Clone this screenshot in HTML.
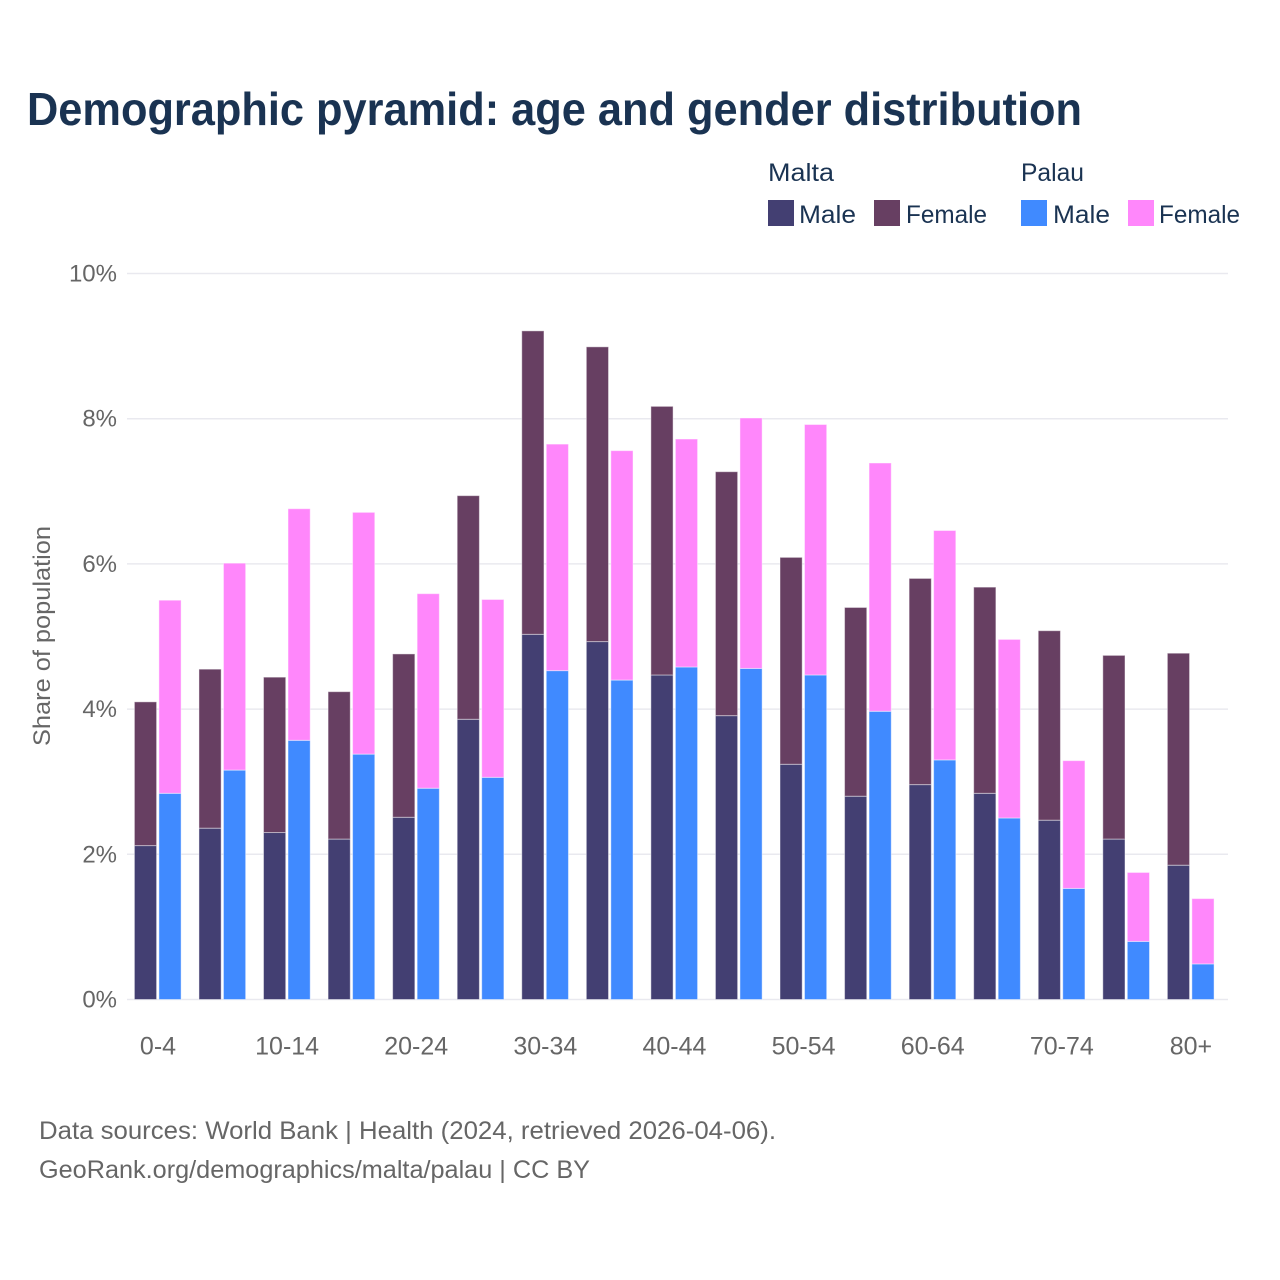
<!DOCTYPE html>
<html lang="en">
<head>
<meta charset="utf-8">
<title>Demographic pyramid</title>
<style>
html,body{margin:0;padding:0;background:#fff;}
svg{display:block;font-family:"Liberation Sans",sans-serif;}
</style>
</head>
<body>
<svg id="chart" xmlns="http://www.w3.org/2000/svg" width="1280" height="1280" viewBox="0 0 1280 1280">
<rect width="1280" height="1280" fill="#fff"/>
<text x="27" y="125" font-size="46" font-weight="700" fill="#1a3352" textLength="1055" lengthAdjust="spacingAndGlyphs">Demographic pyramid: age and gender distribution</text>
<g font-size="25" fill="#1a3352">
<text x="768" y="181" textLength="66" lengthAdjust="spacingAndGlyphs">Malta</text>
<text x="1021" y="181" textLength="63" lengthAdjust="spacingAndGlyphs">Palau</text>
<rect x="768" y="200" width="26" height="26" fill="#433f72"/>
<text x="799" y="223" textLength="57" lengthAdjust="spacingAndGlyphs">Male</text>
<rect x="874" y="200" width="26" height="26" fill="#673f62"/>
<text x="906" y="223" textLength="81" lengthAdjust="spacingAndGlyphs">Female</text>
<rect x="1021" y="200" width="26" height="26" fill="#408aff"/>
<text x="1053" y="223" textLength="57" lengthAdjust="spacingAndGlyphs">Male</text>
<rect x="1128" y="200" width="26" height="26" fill="#ff87fb"/>
<text x="1159" y="223" textLength="81" lengthAdjust="spacingAndGlyphs">Female</text>
</g>
<text transform="translate(50,636) rotate(-90)" text-anchor="middle" font-size="24" fill="#666" textLength="220" lengthAdjust="spacingAndGlyphs">Share of population</text>
<g id="grid"></g>
<g id="bars"></g>
<g id="xlabels"></g>
<g font-size="25" fill="#666">
<text x="39" y="1139" textLength="737" lengthAdjust="spacingAndGlyphs">Data sources: World Bank | Health (2024, retrieved 2026-04-06).</text>
<text x="39" y="1178" textLength="551" lengthAdjust="spacingAndGlyphs">GeoRank.org/demographics/malta/palau | CC BY</text>
</g>
</svg>
<script>
const ageGroups = ["0-4","5-9","10-14","15-19","20-24","25-29","30-34","35-39","40-44","45-49","50-54","55-59","60-64","65-69","70-74","75-79","80+"];
const tickedAgeLabels = ["0-4","10-14","20-24","30-34","40-44","50-54","60-64","70-74","80+"];
const maltaMale = [2.12,2.36,2.30,2.21,2.51,3.86,5.03,4.93,4.47,3.91,3.24,2.80,2.96,2.84,2.47,2.21,1.85];
const maltaFemale = [1.98,2.19,2.14,2.03,2.25,3.08,4.18,4.06,3.70,3.36,2.85,2.60,2.84,2.84,2.61,2.53,2.92];
const palauMale = [2.84,3.16,3.57,3.38,2.91,3.06,4.53,4.40,4.58,4.56,4.47,3.97,3.30,2.50,1.53,0.80,0.49];
const palauFemale = [2.66,2.85,3.19,3.33,2.68,2.45,3.12,3.16,3.14,3.45,3.45,3.42,3.16,2.46,1.76,0.95,0.90];
const yTicks = [0,2,4,6,8,10];

const NS = "http://www.w3.org/2000/svg";
function yScale(v){ return 999.5 - v * 72.6; }
function xScale(i){ return 158 + i * 64.56; }
function make(tag, attrs, parent, text){
  const el = document.createElementNS(NS, tag);
  for (const k in attrs) el.setAttribute(k, attrs[k]);
  if (text !== undefined) el.textContent = text;
  parent.appendChild(el);
  return el;
}
const grid = document.getElementById('grid');
yTicks.forEach(function(t){
  const line = make('line', {x1:127, x2:1228, y1:yScale(t), y2:yScale(t), stroke:'#e9e9ef', 'stroke-width':1.5}, grid);
  
  
  const label = make('text', {x:117, y:yScale(t)+8, 'text-anchor':'end', 'font-size':24, fill:'#666'}, grid, t + '%');
  
  
});
const bars = document.getElementById('bars');
function drawSegment(x, base, value, fill, name){
  const top = yScale(base + value);
  const r = make('rect', {x:x, y:top, width:22.2, height:yScale(base)-top, fill:fill, stroke:'#fff', 'stroke-opacity':0.45, 'stroke-width':1}, bars);
  
  
}
ageGroups.forEach(function(age, i){
  const c = xScale(i);
  drawSegment(c-23.6, 0, maltaMale[i], '#433f72', 'bar-malta-male-' + age);
  drawSegment(c-23.6, maltaMale[i], maltaFemale[i], '#673f62', 'bar-malta-female-' + age);
  drawSegment(c+0.9, 0, palauMale[i], '#408aff', 'bar-palau-male-' + age);
  drawSegment(c+0.9, palauMale[i], palauFemale[i], '#ff87fb', 'bar-palau-female-' + age);
});
const xl = document.getElementById('xlabels');
ageGroups.forEach(function(age, i){
  if (tickedAgeLabels.indexOf(age) < 0) return;
  const t = make('text', {x:xScale(i), y:1054.5, 'text-anchor':'middle', 'font-size':25, fill:'#666'}, xl, age);
  
  
});
</script>
</body>
</html>
